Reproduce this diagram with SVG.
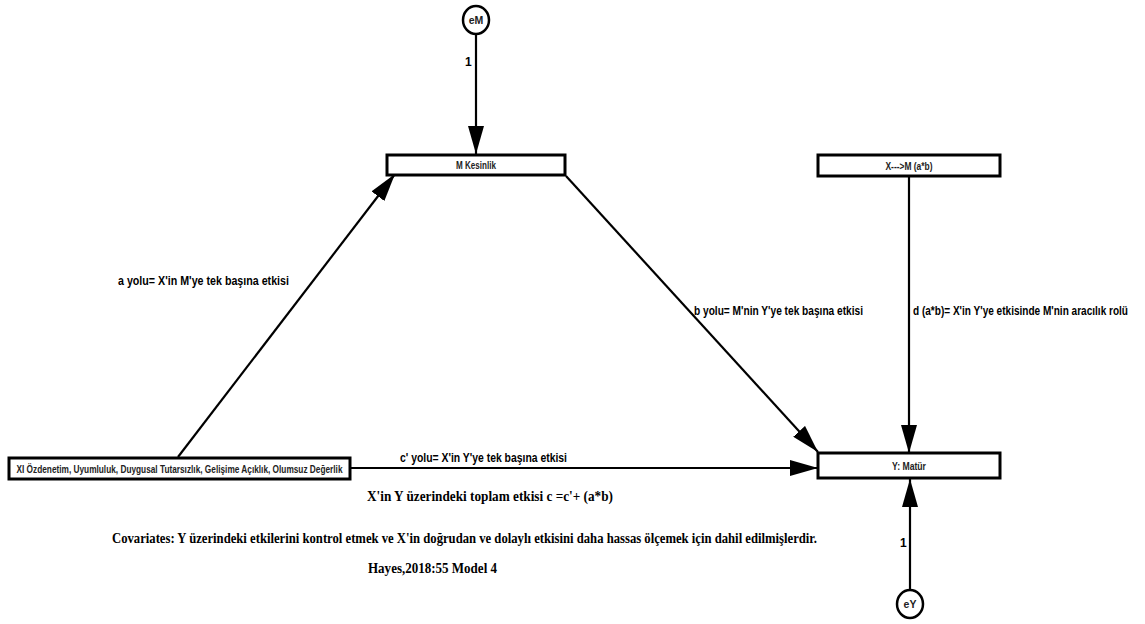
<svg xmlns="http://www.w3.org/2000/svg" width="1145" height="624" viewBox="0 0 1145 624">
<defs>
<marker id="arr" viewBox="0 0 28 16" refX="28" refY="8" markerWidth="28" markerHeight="16" markerUnits="userSpaceOnUse" orient="auto">
<path d="M0,0 L28,8 L0,16 Z" fill="#000"/>
</marker>
<style>
.box{fill:#fff;stroke:#000;stroke-width:3}
.circ{fill:#fff;stroke:#000;stroke-width:2.5}
.nt{font-family:"Liberation Sans",Arial,sans-serif;font-weight:bold;font-size:10.5px;fill:#222;text-anchor:middle}
.lbl{font-family:"Liberation Sans",Arial,sans-serif;font-weight:bold;font-size:12px;fill:#000}
.ser{font-family:"Liberation Serif","Times New Roman",serif;font-weight:bold;font-size:15px;fill:#000}
.con{stroke:#000;stroke-width:2.2;fill:none}
</style>
</defs>
<rect width="1145" height="624" fill="#fff"/>
<g id="connectors">
<line class="con" x1="476" y1="34" x2="476" y2="154" marker-end="url(#arr)"/>
<line class="con" x1="178" y1="457" x2="395" y2="174" marker-end="url(#arr)"/>
<line class="con" x1="566" y1="176" x2="818" y2="452" marker-end="url(#arr)"/>
<line class="con" x1="351" y1="468" x2="818" y2="468" marker-end="url(#arr)"/>
<line class="con" x1="909" y1="176" x2="909" y2="453" marker-end="url(#arr)"/>
<line class="con" x1="910" y1="590" x2="910" y2="479" marker-end="url(#arr)"/>
</g>
<g id="eM">
<ellipse class="circ" cx="476" cy="20" rx="13" ry="14"/>
<text class="nt" x="476" y="23.5" font-size="9">eM</text>
</g>
<g id="M">
<rect class="box" x="387" y="155" width="178" height="20"/>
<text class="nt" x="476" y="169" textLength="40" lengthAdjust="spacingAndGlyphs">M Kesinlik</text>
</g>
<g id="XM">
<rect class="box" x="818" y="155" width="182" height="21"/>
<text class="nt" x="909" y="169.5" textLength="47" lengthAdjust="spacingAndGlyphs">X---&gt;M (a*b)</text>
</g>
<g id="Y">
<rect class="box" x="818" y="453" width="182" height="25"/>
<text class="nt" x="909" y="469.5" textLength="34" lengthAdjust="spacingAndGlyphs">Y: Matür</text>
</g>
<g id="X">
<rect class="box" x="9" y="458" width="341" height="21"/>
<text class="nt" x="179.5" y="472.5" textLength="326" lengthAdjust="spacingAndGlyphs">XI Özdenetim, Uyumluluk, Duygusal Tutarsızlık, Gelişime Açıklık, Olumsuz Değerlik</text>
</g>
<g id="eY">
<ellipse class="circ" cx="910" cy="604" rx="13" ry="14"/>
<text class="nt" x="910" y="607.5" font-size="9">eY</text>
</g>
<g id="labels">
<text class="lbl" x="465" y="66" font-size="11">1</text>
<text class="lbl" x="900" y="547" font-size="11">1</text>
<text class="lbl" x="118" y="285" textLength="171" lengthAdjust="spacingAndGlyphs">a yolu= X'in M'ye tek başına etkisi</text>
<text class="lbl" x="694" y="315" textLength="169" lengthAdjust="spacingAndGlyphs">b yolu= M'nin Y'ye tek başına etkisi</text>
<text class="lbl" x="1128" y="315" font-size="10.5" text-anchor="end" textLength="215" lengthAdjust="spacingAndGlyphs">d (a*b)= X'in Y'ye etkisinde M'nin aracılık rolü</text>
<text class="lbl" x="400" y="462" textLength="167" lengthAdjust="spacingAndGlyphs">c' yolu= X'in Y'ye tek başına etkisi</text>
<text class="ser" x="367" y="501" textLength="246" lengthAdjust="spacingAndGlyphs">X'in Y üzerindeki toplam etkisi c =c'+  (a*b)</text>
<text class="ser" x="112" y="543" font-size="13" textLength="705" lengthAdjust="spacingAndGlyphs">Covariates: Y üzerindeki etkilerini kontrol etmek ve X'in doğrudan ve dolaylı etkisini daha hassas ölçemek için dahil edilmişlerdir.</text>
<text class="ser" x="368" y="573" textLength="129" lengthAdjust="spacingAndGlyphs">Hayes,2018:55 Model 4</text>
</g>
</svg>
